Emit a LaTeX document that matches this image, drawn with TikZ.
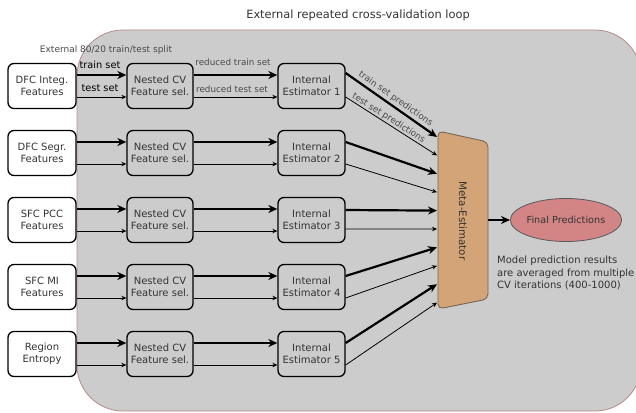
\documentclass[tikz,border=0pt]{standalone}
\usepackage{fontspec}
\setmainfont{DejaVu Sans}
\usetikzlibrary{arrows.meta,shapes.geometric}
\definecolor{bggray}{HTML}{CCCCCC}
\definecolor{bgborder}{HTML}{B88A8A}
\definecolor{metafill}{HTML}{D2A477}
\definecolor{metaborder}{HTML}{7A6655}
\definecolor{finalfill}{HTML}{D38585}
\definecolor{txtgray}{HTML}{333333}
\definecolor{lblgray}{HTML}{4A4A4A}
\tikzset{
  inbox/.style={draw=black, line width=1.3pt, rounded corners=6pt, fill=white,
    minimum width=68pt, minimum height=45pt, align=center, inner sep=1pt,
    font=\fontsize{10}{12}\selectfont, text=txtgray},
  procbox/.style={inbox, fill=bggray},
  thickarr/.style={line width=2.2pt, -{Stealth[length=9pt,width=8pt]}},
  thinarr/.style={line width=0.8pt, -{Stealth[length=5pt,width=4.5pt]}},
  lbl/.style={font=\fontsize{8.8}{10}\selectfont, text=lblgray, inner sep=0.5pt},
  lblk/.style={font=\fontsize{9.8}{11}\selectfont, text=black, inner sep=1pt},
}
\begin{document}
\begin{tikzpicture}[x=1pt,y=-1pt]
\useasboundingbox (0,0) rectangle (636,412);
% background loop
\path[fill=bggray, draw=bgborder, line width=0.8pt, rounded corners=46pt] (77,30) rectangle (641,411);
\node[font=\fontsize{11.4}{13}\selectfont, text=txtgray] (title) at (358,15) {External repeated cross-validation loop};
\node[font=\fontsize{9}{10}\selectfont, text=lblgray] (split) at (106,50) {External 80/20 train/test split};

% rows
\foreach \i/\y/\ta/\tb in {1/86/DFC Integ./Features, 2/153/DFC Segr./Features, 3/220/SFC PCC/Features, 4/287/SFC MI/Features, 5/354/Region/Entropy}{
  \node[inbox] (f\i) at (42,\y) {\ta\\\tb};
  \node[procbox, minimum width=66pt] (n\i) at (160,\y) {Nested CV\\Feature sel.};
  \node[procbox, minimum width=67pt] (e\i) at (311.5,\y) {Internal\\Estimator \i};
  \draw[thickarr] ([yshift=11pt]f\i.east) -- ([yshift=11pt]n\i.west);
  \draw[thinarr] ([yshift=-11pt]f\i.east) -- ([yshift=-11pt]n\i.west);
  \draw[thickarr] ([yshift=11pt]n\i.east) -- ([yshift=11pt]e\i.west);
  \draw[thinarr] ([yshift=-11pt]n\i.east) -- ([yshift=-11pt]e\i.west);
}

% row 1 labels
\node[lblk] (ltr) at (100,65) {train set};
\node[lblk] (lte) at (100,88) {test set};
\node[lbl] (lrtr) at (233,62) {reduced train set};
\node[lbl] (lrte) at (232,89) {reduced test set};

% meta estimator
\coordinate (mtl) at (438,131);
\coordinate (mtr) at (488,142);
\coordinate (mbr) at (488,299);
\coordinate (mbl) at (438,309);
\draw[fill=metafill, draw=metaborder, line width=0.9pt, rounded corners=5pt]
  (mtl) -- (mtr) -- (mbr) -- (mbl) -- cycle;
\node[rotate=-90, font=\fontsize{10.3}{12}\selectfont, text=txtgray] (meta) at (463,221) {Meta-Estimator};
\foreach \k in {1,...,10}{
  \coordinate (m\k) at (437,{137+18.4*(\k-1)});
}
\draw[thickarr] ([yshift=13pt]e1.east) -- node[sloped, above, lbl, pos=0.5, yshift=1.5pt]{train set predictions} (m1);
\draw[thinarr] ([yshift=-11pt]e1.east) -- node[sloped, above, lbl, pos=0.44]{test set predictions} (m2);
\draw[thickarr] ([yshift=11pt]e2.east) -- (m3);
\draw[thinarr] ([yshift=-11pt]e2.east) -- (m4);
\draw[thickarr] ([yshift=10pt]e3.east) -- (m5);
\draw[thinarr] ([yshift=-9pt]e3.east) -- (m6);
\draw[thickarr] ([yshift=11pt]e4.east) -- (m7);
\draw[thinarr] ([yshift=-11pt]e4.east) -- (m8);
\draw[thickarr] ([yshift=11pt]e5.east) -- (m9);
\draw[thinarr] ([yshift=-11pt]e5.east) -- (m10);

% final
\node[ellipse, draw=gray!70!black, line width=0.8pt, fill=finalfill, minimum width=97pt, minimum height=43pt, inner sep=0pt,
  font=\fontsize{9.7}{12}\selectfont, text=txtgray] (final) at (566,220) {Final Predictions};
\coordinate (mout) at (488,220);
\draw[thickarr] (mout) -- (final.west);

\node[anchor=north west, align=left, font=\fontsize{10}{12.5}\selectfont, text=txtgray, inner sep=0pt] (note) at (497,256)
  {Model prediction results\\are averaged from multiple\\CV iterations (400-1000)};
\end{tikzpicture}
\end{document}
